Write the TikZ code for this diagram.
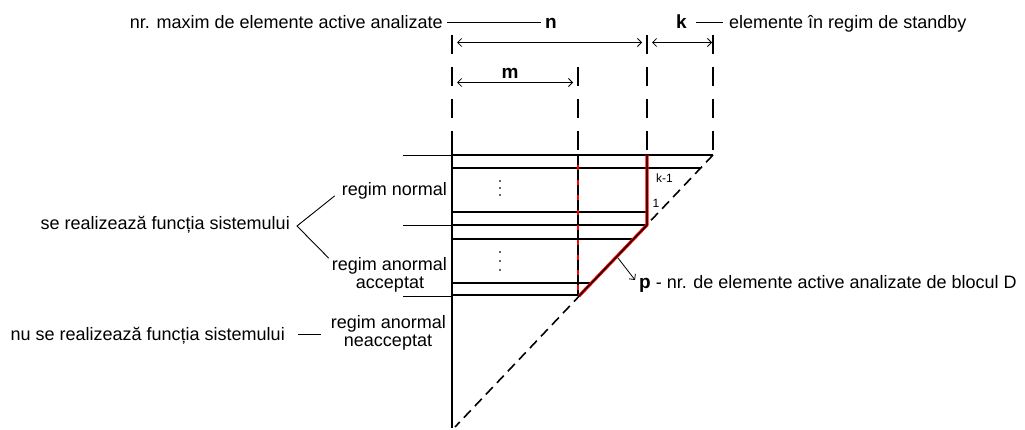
\documentclass[tikz,border=0pt]{standalone}
\usepackage{fontspec}
\setmainfont{Liberation Sans}
\usetikzlibrary{arrows.meta,calc}
\begin{document}
\begin{tikzpicture}[x=1pt,y=-1pt,
  txt/.style={inner sep=0pt, font=\fontsize{18}{20}\selectfont},
  bld/.style={inner sep=0pt, font=\fontsize{19}{21}\selectfont\bfseries},
  sml/.style={inner sep=0pt, font=\fontsize{12}{14}\selectfont},
  thk/.style={line width=2pt},
  thn/.style={line width=0.9pt},
  vdash/.style={line width=2pt, dash pattern=on 19pt off 13pt},
  ddash/.style={line width=1.6pt, dash pattern=on 10pt off 6pt},
  tip/.tip={Straight Barb[length=4pt,width=8pt,line width=0.8pt]},
  dim/.style={line width=0.8pt, tip-tip},
  pointer/.style={line width=0.8pt, -tip},
  dot/.style={fill=black!60, draw=none},
  ]
\useasboundingbox (0,0) rectangle (1025,430);

% ---------------- top labels ----------------
\node[txt, anchor=base east] (nmax) at (443,29) {nr. maxim de elemente active analizate};
\node[bld, anchor=base west] (n) at (545,29) {n};
\draw[thn] ($(nmax.base east)+(4,-7)$) -- ($(n.base west)+(-4,-7)$);

\node[bld, anchor=base west] (k) at (676,29) {k};
\node[txt, anchor=base west] (stb) at (729,29) {elemente în regim de standby};
\draw[thn] ($(k.base east)+(9,-7)$) -- ($(stb.base west)+(-6,-7)$);

% ---------------- column guides ----------------
\coordinate (c1t) at (452,35);  \coordinate (c1b) at (452,155);
\coordinate (c2t) at (578,67);  \coordinate (c2b) at (578,155);
\coordinate (c3t) at (647,35);  \coordinate (c3b) at (647,155);
\coordinate (c4t) at (713,35);  \coordinate (c4b) at (713,155);
\draw[vdash] (c1t) -- (c1b);
\draw[vdash] (c2t) -- (c2b);
\draw[vdash] (c3t) -- (c3b);
\draw[vdash] (c4t) -- (c4b);

% dimension arrows
\coordinate (na) at (457,42.5); \coordinate (nb) at (642,42.5);
\coordinate (ka) at (652,42.5); \coordinate (kb) at (712,42.5);
\coordinate (ma) at (457,82.5); \coordinate (mb) at (573,82.5);
\draw[dim] (na) -- (nb);
\draw[dim] (ka) -- (kb);
\draw[dim] (ma) -- (mb);
\node[bld, anchor=base] (m) at (510,79) {m};

% ---------------- table ----------------
% thin outer lines on the left
\draw[thn] (403,155) -- (452,155);
\draw[thn] (403,225.5) -- (452,225.5);
\draw[thn] (403,296.5) -- (452,296.5);

% thick horizontal lines
\draw[thk] (452,155) -- (713,155);
\draw[thk] (452,168) -- (700.7,168);
\draw[thk] (452,212.5) -- (647,212.5);
\draw[thk] (452,225) -- (647,225);
\draw[thk] (452,239) -- (633.3,239);
\draw[thk] (452,283.5) -- (590.3,283.5);
\draw[thk] (452,295.5) -- (579,295.5);

% left vertical
\draw[thk] (452,150) -- (452,428);

% diagonal (dashed)
\draw[ddash] (713,155) -- (455,427);

% red m column
\draw[red, line width=2.2pt] (578,155) -- (578,296);
\draw[line width=1.6pt, dash pattern=on 10pt off 5pt] (578,155) -- (578,296);

% red boundary p
\draw[red, line width=3.2pt, line join=round] (647,155) -- (647,225) -- (579,296);
\draw[line width=1.3pt, line join=round] (647,155) -- (647,225) -- (579,296);

% dots
\foreach \yy in {181,188,195,252,261,270} \fill[dot] (499.3,\yy-0.7) rectangle (500.7,\yy+0.7);

% small labels
\node[sml, anchor=base west] (km1) at (656,183) {k-1};
\node[sml, anchor=base west] (one) at (652.5,208) {1};

% ---------------- left labels ----------------
\node[txt, anchor=base east] (rn) at (447,196) {regim normal};
\node[txt, anchor=base east] (ra1) at (447,271) {regim anormal};
\node[txt, anchor=base] (ra2) at (390,288) {acceptat};
\node[txt, anchor=base east] (se) at (290,230) {se realizează funcția sistemului};
\coordinate (br) at ($(se.base east)+(7,-4)$);
\draw[thn, line cap=round] ($(rn.base west)+(-7,0)$) -- (br) -- ($(ra1.base west)+(-3,-13)$);

\node[txt, anchor=base east] (rx1) at (446,328) {regim anormal};
\node[txt, anchor=base] (rx2) at (388,346) {neacceptat};
\node[txt, anchor=base east] (nu) at (285,340) {nu se realizează funcția sistemului};
\draw[thn] ($(nu.base east)+(13,-6)$) -- ($(rx1.base west)+(-10,6)$);

% ---------------- p label ----------------
\node[txt, anchor=base west] (p) at (639,288) {{\fontsize{19}{21}\selectfont\bfseries p} - nr. de elemente active analizate de blocul D};
\coordinate (ps) at (618,258);
\draw[pointer] (ps) -- ($(p.base west)+(-4,-8)$);

\end{tikzpicture}
\end{document}
